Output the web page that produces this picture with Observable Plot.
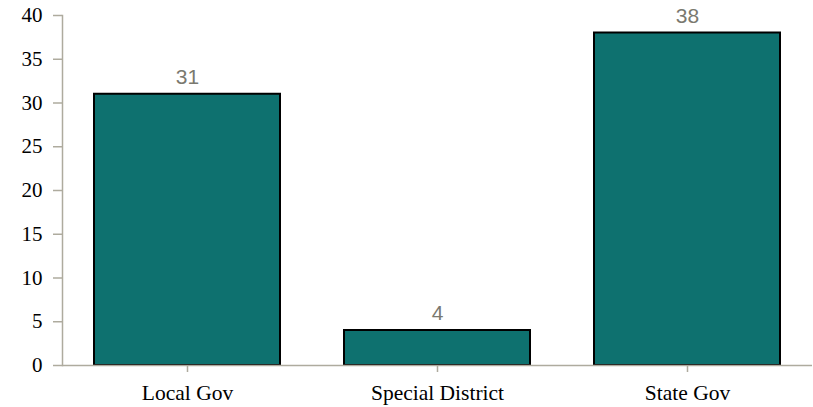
<!DOCTYPE html>
<html>
<head>
<meta charset="utf-8">
<script src="https://cdn.jsdelivr.net/npm/d3@7"></script>
<script src="https://cdn.jsdelivr.net/npm/@observablehq/plot@0.6"></script>
<style>
  body { margin: 0; background: #fff; }
  svg { display: block; }
</style>
</head>
<body>
<div id="chart"></div>
<script>
const categories = ["Local Gov", "Special District", "State Gov"];
const values = [31, 4, 38];
const yTicks = [0, 5, 10, 15, 20, 25, 30, 35, 40];

const data = categories.map((c, i) => ({category: c, value: values[i]}));
const axisColor = "#aeab9e";

const chart = Plot.plot({
  width: 813,
  height: 407,
  marginTop: 15,
  marginBottom: 42,
  marginLeft: 62,
  marginRight: 1,
  style: {background: "#fff"},
  x: {domain: categories, paddingInner: 0.256, paddingOuter: 0.128, label: null},
  y: {domain: [0, 40], label: null},
  marks: [
    Plot.barY(data, {x: "category", y: "value", fill: "#0e716f", stroke: "#000", strokeWidth: 2}),
    Plot.text(data, {x: "category", y: "value", text: d => String(d.value), dy: -17,
      fill: "#7a796f", fontSize: 21, fontFamily: "Liberation Sans, Arial, sans-serif"}),
    Plot.axisY({ticks: yTicks, tickSize: 9, tickPadding: 11, stroke: axisColor, strokeWidth: 1.5,
      fill: "#000", fontSize: 21, fontFamily: "Liberation Serif, Times New Roman, serif", label: null}),
    Plot.axisX({tickSize: 7, tickPadding: 12, stroke: axisColor, strokeWidth: 1.5,
      fill: "#000", fontSize: 21.5, fontFamily: "Liberation Serif, Times New Roman, serif", label: null}),
    Plot.ruleY([0], {stroke: axisColor, strokeWidth: 1.5}),
    Plot.frame({anchor: "left", stroke: axisColor, strokeWidth: 1.5})
  ]
});
document.getElementById("chart").appendChild(chart);
</script>
</body>
</html>
